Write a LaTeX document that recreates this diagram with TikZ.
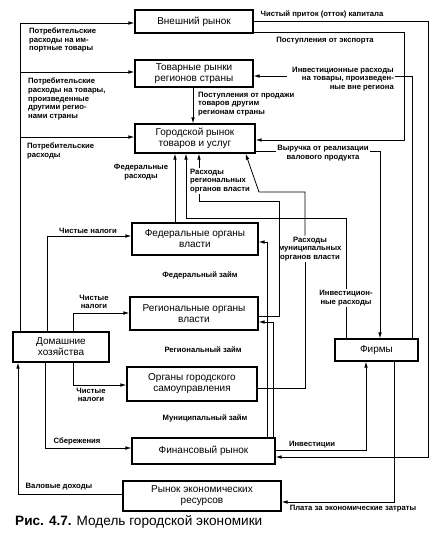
\documentclass[tikz,border=0pt]{standalone}
\usepackage{fontspec}
\setmainfont{Liberation Sans}
\usetikzlibrary{arrows.meta}
\begin{document}
\begin{tikzpicture}[x=1pt,y=-1pt,
  box/.style={draw,line width=1.2pt,inner sep=0pt,align=center,font=\fontsize{10}{11}\selectfont},
  lbl/.style={inner sep=1pt,font=\fontsize{7.7}{8.7}\selectfont\bfseries},
  ln/.style={line width=0.8pt},
  arr/.style={ln,-{Latex[length=6pt,width=3.6pt]}}]
\useasboundingbox[fill=white] (0,0) rectangle (442,539);

% boxes
\node[box,minimum width=118pt,minimum height=23pt] (ext) at (194,21.5) {Внешний рынок};
\node[box,minimum width=118pt,minimum height=27pt] (regm) at (194,73.5) {Товарные рынки\\регионов страны};
\node[box,minimum width=120pt,minimum height=29pt] (city) at (195,138.5) {Городской рынок\\товаров и услуг};
\node[box,minimum width=126pt,minimum height=32pt] (fed) at (195,239) {Федеральные органы\\власти};
\node[box,minimum width=128pt,minimum height=33pt] (rgo) at (194,313.5) {Региональные органы\\власти};
\node[box,minimum width=130pt,minimum height=34pt] (mun) at (192,384) {Органы городского\\самоуправления};
\node[box,minimum width=143pt,minimum height=26pt] (fin) at (203.5,451) {Финансовый рынок};
\node[box,minimum width=158pt,minimum height=30pt] (res) at (202,496) {Рынок экономических\\ресурсов};
\node[box,minimum width=96pt,minimum height=30pt] (hh) at (61,347) {Домашние\\хозяйства};
\node[box,minimum width=83pt,minimum height=22pt] (firm) at (376.5,350) {Фирмы};

% labels
\node[lbl,anchor=west,align=left] (lb1) at (28,40) {Потребительские\\расходы на им-\\портные товары};
\node[lbl,anchor=west,align=left] (lb2) at (27,99) {Потребительские\\расходы на товары,\\произведенные\\другими регио-\\нами страны};
\node[lbl,anchor=west,align=left] (lb3) at (26,151) {Потребительские\\расходы};
\node[lbl] (lcap) at (322,14) {Чистый приток (отток) капитала};
\node[lbl] (lexp) at (325,41) {Поступления от экспорта};
\node[lbl,anchor=east,align=right] (linv) at (395,79) {Инвестиционные расходы\\на товары, произведен-\\ные вне региона};
\node[lbl,anchor=west,align=left] (lsale) at (197,104) {Поступления от продажи\\товаров другим\\регионам страны};
\node[lbl,align=center] (lrev) at (323,153) {Выручка от реализации\\валового продукта};
\node[lbl,align=center] (lfexp) at (141,172) {Федеральные\\расходы};
\node[lbl,anchor=west,align=left] (lrexp) at (189,181) {Расходы\\региональных\\органов власти};
\node[lbl,align=center] (lmexp) at (310,249) {Расходы\\муниципальных\\органов власти};
\node[lbl,align=center] (linvr) at (346,298) {Инвестицион-\\ные расходы};
\node[lbl] (lfl) at (200,275) {Федеральный займ};
\node[lbl] (lrl) at (203,350) {Региональный займ};
\node[lbl] (lml) at (205,418) {Муниципальный займ};
\node[lbl] (linvt) at (312,445) {Инвестиции};
\node[lbl] (lpay) at (353,509) {Плата за экономические затраты};
\node[lbl] (ltax1) at (88,231) {Чистые налоги};
\node[lbl,align=center] (ltax2) at (94,302) {Чистые\\налоги};
\node[lbl,align=center] (ltax3) at (91,395) {Чистые\\налоги};
\node[lbl] (lsav) at (77,441) {Сбережения};
\node[lbl] (lgross) at (59,487) {Валовые доходы};
\node[anchor=west,inner sep=0pt,font=\fontsize{13.6}{15}\selectfont] (capt) at (15,522) {\textbf{Рис. 4.7.} Модель городской экономики};

% left trunk
\coordinate (tl) at (20,23);
\coordinate (b2) at (20,72);
\coordinate (b3) at (20,137);
\draw[arr] (tl |- hh.north) -- (tl) -- (tl -| ext.west);
\draw[arr] (b2) -- (b2 -| regm.west);
\draw[arr] (b3) -- (b3 -| city.west);

% household taxes and savings
\coordinate (t1) at (47,236);
\coordinate (t2) at (73,313);
\coordinate (t3) at (73,385);
\coordinate (t4) at (45,448);
\coordinate (t5) at (18,494);
\draw[arr] (t1 |- hh.north) -- (t1) -- (t1 -| fed.west);
\draw[arr] (t2 |- hh.north) -- (t2) -- (t2 -| rgo.west);
\draw[arr] (t3 |- hh.south) -- (t3) -- (t3 -| mun.west);
\draw[arr] (t4 |- hh.south) -- (t4) -- (t4 -| fin.west);
\draw[arr] (t5 -| res.west) -- (t5) -- (t5 |- hh.south);

% regional markets -> city
\coordinate (p1) at (193,100);
\draw[arr] (p1 |- regm.south) -- (p1 |- city.north);

% external market
\coordinate (c1) at (428,21);
\coordinate (c2) at (428,457);
\draw[arr] (c1 -| ext.east) -- (c1) -- (c2) -- (c2 -| fin.east);
\coordinate (e1) at (404,32);
\coordinate (e2) at (404,140);
\draw[arr] (e1 -| ext.east) -- (e1) -- (e2) -- (e2 -| city.east);

% investment outside region
\coordinate (i1) at (412,76);
\draw[ln] (i1 |- firm.north) -- (i1) -- (i1 -| linv.east);
\draw[arr] ([xshift=-4pt]linv.west |- i1) -- (i1 -| regm.east);

% revenue
\coordinate (r1) at (380,151);
\draw[ln] (r1 -| city.east) -- (r1 -| lrev.west);
\draw[arr] (r1 -| lrev.east) -- (r1) -- (r1 |- firm.north);

% investment expenditures
\coordinate (k1) at (346,218);
\coordinate (k2) at (186,218);
\draw[ln] (k1 |- firm.north) -- (k1 |- linvr.south);
\draw[arr] (k1 |- linvr.north) -- (k1) -- (k2) -- (k2 |- city.south);

% federal expenditures
\coordinate (f1) at (175,190);
\draw[arr] (f1 |- fed.north) -- (f1 |- city.south);

% regional expenditures
\coordinate (q1) at (199,201);
\coordinate (q2) at (279,201);
\coordinate (q3) at (279,316);
\draw[ln] (q3 -| rgo.east) -- (q3) -- (q2) -- (q1) -- (q1 |- lrexp.south);
\draw[arr] (q1 |- lrexp.north) -- (q1 |- city.south);

% municipal expenditures
\coordinate (m1) at (305,388);
\coordinate (m2) at (305,192);
\coordinate (m3) at (259,192);
\draw[ln] (m1 -| mun.east) -- (m1) -- (m1 |- lmexp.south);
\draw[arr] (m1 |- lmexp.north) -- (m2) -- (m3) -- ([xshift=-10pt]city.south east);

% loans
\coordinate (l1) at (267,242);
\coordinate (l2) at (273,322);
\draw[arr] (l1 |- fin.north) -- (l1) -- (l1 -| fed.east);
\draw[arr] (l2 |- fin.north) -- (l2) -- (l2 -| rgo.east);

% firms
\coordinate (v1) at (366,450);
\draw[arr] (v1 -| fin.east) -- (v1) -- (v1 |- firm.south);
\coordinate (w1) at (394,502);
\draw[arr] (w1 |- firm.south) -- (w1) -- (w1 -| res.east);
\end{tikzpicture}
\end{document}
